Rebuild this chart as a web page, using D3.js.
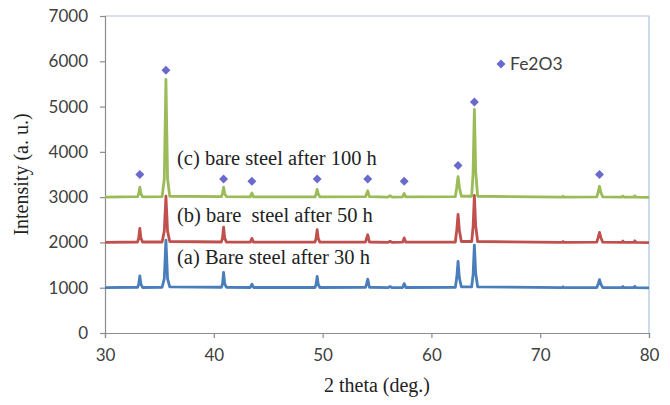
<!DOCTYPE html>
<html>
<head>
<meta charset="utf-8">
<script src="https://cdn.jsdelivr.net/npm/d3@7"></script>
<style>
  html, body { margin: 0; padding: 0; background: #fff; }
  svg { display: block; }
</style>
</head>
<body>
<svg id="chart" width="670" height="405"></svg>
<script>
// 2θ sampling points shared by the three diffraction patterns
const theta = [30, 33.0, 33.1, 33.2, 33.3, 33.45, 35.25, 35.45, 35.6, 35.75, 35.95,
  40.7, 40.8, 40.9, 41.0, 41.15, 43.35, 43.5, 43.65, 49.3, 49.4, 49.5, 49.6, 49.75,
  53.95, 54.05, 54.15, 54.3, 56.0, 56.2, 56.4, 57.35, 57.5, 57.65,
  62.2, 62.33, 62.45, 62.57, 62.75, 63.7, 63.83, 63.95, 64.07, 64.25,
  72.0, 72.1, 72.2, 75.2, 75.33, 75.45, 75.57, 75.75, 77.5, 77.6, 77.7, 78.6, 78.7, 78.8, 80];

// (a) bare steel after 30 h
const intensity30h = [1000, 1010, 1080, 1260, 1080, 1005, 1010, 1200, 2050, 1200, 1020,
  1010, 1080, 1340, 1090, 1010, 1005, 1080, 1005, 1005, 1070, 1250, 1070, 1005,
  1010, 1090, 1190, 1010, 1000, 1025, 1000, 1005, 1090, 1005,
  1010, 1220, 1580, 1220, 1020, 1020, 1280, 1940, 1320, 1020,
  1000, 1020, 1000, 1005, 1080, 1180, 1080, 1005, 1000, 1025, 1000, 1000, 1030, 1000, 995];

// (b) bare steel after 50 h
const intensity50h = [2000, 2010, 2100, 2310, 2100, 2010, 2010, 2250, 3020, 2250, 2020,
  2010, 2100, 2340, 2100, 2010, 2005, 2090, 2005, 2005, 2090, 2280, 2090, 2005,
  2010, 2100, 2170, 2010, 2000, 2025, 2000, 2005, 2100, 2005,
  2010, 2270, 2620, 2270, 2020, 2020, 2330, 3040, 2370, 2020,
  2000, 2020, 2000, 2005, 2110, 2220, 2110, 2005, 2000, 2030, 2000, 2000, 2035, 2000, 1995];

// (c) bare steel after 100 h
const intensity100h = [3000, 3010, 3080, 3220, 3080, 3005, 3010, 3400, 5600, 3400, 3020,
  3010, 3080, 3220, 3080, 3010, 3005, 3090, 3005, 3005, 3070, 3170, 3070, 3005,
  3010, 3080, 3140, 3010, 3000, 3030, 3000, 3005, 3080, 3005,
  3010, 3220, 3450, 3220, 3020, 3020, 3520, 4940, 3570, 3020,
  3000, 3020, 3000, 3005, 3110, 3240, 3110, 3005, 3000, 3025, 3000, 3000, 3030, 3000, 2995];

// Fe2O3 reflection markers
const fe2o3Theta = [33.2, 35.6, 40.9, 43.5, 49.5, 54.15, 57.5, 62.45, 63.95, 75.45];
const fe2o3Level = [3500, 5800, 3400, 3350, 3400, 3400, 3350, 3700, 5100, 3500];

const seriesNames = ["(a) Bare steel after 30 h", "(b) bare  steel after 50 h", "(c) bare steel after 100 h"];
const seriesColors = ["#4a7ebb", "#c0504d", "#9bbb59"];

const xTicks = [30, 40, 50, 60, 70, 80];
const yTicks = [0, 1000, 2000, 3000, 4000, 5000, 6000, 7000];

const svg = d3.select("#chart");
const x = d3.scaleLinear().domain([30, 80]).range([105, 649]);
const y = d3.scaleLinear().domain([0, 7000]).range([333, 16]);

const tickFont = "Lato, 'Open Sans', sans-serif";
const serif = "'Liberation Serif', 'Times New Roman', serif";

// plot-area frame (top and right edges)
svg.append("path")
  .attr("d", `M${x(30)},${y(7000)}H${x(80)}V${y(0)}`)
  .attr("fill", "none").attr("stroke", "#a9c3e0").attr("stroke-width", 1.2);

// axes
const xAxis = svg.append("g").attr("transform", `translate(0,${y(0)})`)
  .call(d3.axisBottom(x).tickValues(xTicks).tickSize(5).tickPadding(11).tickFormat(d3.format("d")));
const yAxis = svg.append("g").attr("transform", `translate(${x(30)},0)`)
  .call(d3.axisLeft(y).tickValues(yTicks).tickSize(5).tickPadding(12).tickFormat(d3.format("d")));

[xAxis, yAxis].forEach(g => {
  g.select(".domain").attr("stroke", "#8c8c8c").attr("stroke-width", 1.2);
  g.selectAll(".tick line").attr("stroke", "#8c8c8c").attr("stroke-width", 1.2);
  g.selectAll(".tick text").attr("fill", "#404040")
    .style("font-family", tickFont).style("font-size", "17px");
});

// diffraction patterns
const line = d3.line().x(d => x(d[0])).y(d => y(d[1]));
[intensity30h, intensity50h, intensity100h].forEach((vals, i) => {
  svg.append("path")
    .datum(theta.map((t, k) => [t, vals[k]]))
    .attr("d", line)
    .attr("fill", "none")
    .attr("stroke", seriesColors[i])
    .attr("stroke-width", 2.8)
    .attr("stroke-linejoin", "round");
});

// Fe2O3 markers
const diamond = d3.symbol(d3.symbolSquare, 40);
svg.append("g").selectAll("path")
  .data(fe2o3Theta.map((t, k) => [t, fe2o3Level[k]]))
  .join("path")
  .attr("d", diamond)
  .attr("transform", d => `translate(${x(d[0])},${y(d[1])}) rotate(45)`)
  .attr("fill", "#6a6acd");

// legend
svg.append("path").attr("d", diamond)
  .attr("transform", `translate(501,64) rotate(45)`).attr("fill", "#6a6acd");
svg.append("text").attr("x", 510).attr("y", 70)
  .style("font-family", tickFont).style("font-size", "17.5px").attr("fill", "#404040")
  .text("Fe2O3");

// series annotations
const labelX = [177, 177, 177];
const labelY = [264, 222, 165];
seriesNames.forEach((name, i) => {
  svg.append("text")
    .attr("x", labelX[i]).attr("y", labelY[i])
    .attr("xml:space", "preserve").style("white-space", "pre")
    .style("font-family", serif).style("font-size", "20.5px").attr("fill", "#222")
    .text(name);
});

// axis titles
svg.append("text")
  .attr("transform", `translate(28,${y(3500)}) rotate(-90)`)
  .attr("text-anchor", "middle")
  .style("font-family", serif).style("font-size", "20px").attr("fill", "#222")
  .text("Intensity (a. u.)");
svg.append("text")
  .attr("x", x(55)).attr("y", 392)
  .attr("text-anchor", "middle")
  .style("font-family", serif).style("font-size", "20px").attr("fill", "#222")
  .text("2 theta (deg.)");
</script>
</body>
</html>
